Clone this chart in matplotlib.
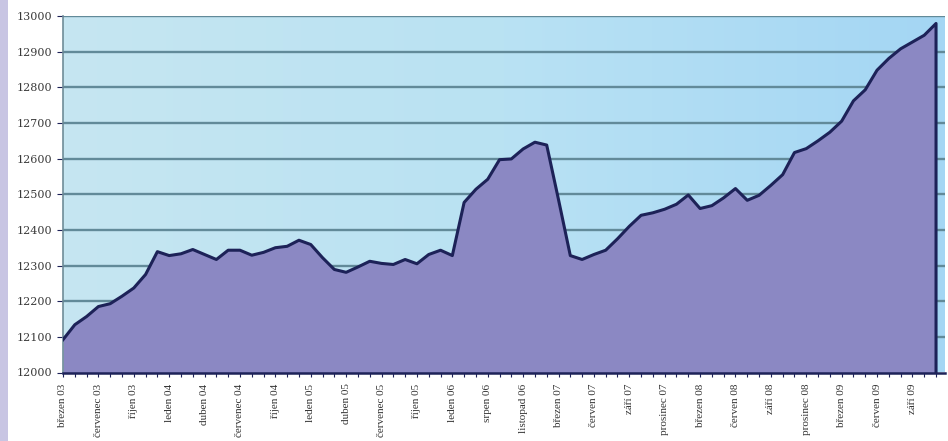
import matplotlib.pyplot as plt
import matplotlib.patches as mpatches
from matplotlib.colors import LinearSegmentedColormap
import numpy as np

# Labels shown on every third category
tick_labels = [
    "březen 03", "červenec 03", "říjen 03", "leden 04", "duben 04",
    "červenec 04", "říjen 04", "leden 05", "duben 05", "červenec 05",
    "říjen 05", "leden 06", "srpen 06", "listopad 06", "březen 07",
    "červen 07", "září 07", "prosinec 07", "březen 08", "červen 08",
    "září 08", "prosinec 08", "březen 09", "červen 09", "září 09",
]

values = [
    12092, 12134, 12157, 12185, 12193, 12214, 12237, 12275, 12339, 12328,
    12333, 12345, 12331, 12317, 12343, 12343, 12329, 12337, 12350, 12354,
    12371, 12359, 12322, 12289, 12281, 12296, 12312, 12306, 12303, 12317,
    12305, 12331, 12343, 12328, 12477, 12514, 12542, 12597, 12599, 12627,
    12646, 12638, 12485, 12328, 12317, 12331, 12343, 12375, 12410, 12441,
    12448, 12458, 12472, 12498, 12460, 12468, 12490, 12516, 12483, 12497,
    12525, 12555, 12617, 12628, 12650, 12674, 12705, 12762, 12793, 12848,
    12881, 12908, 12927, 12946, 12979,
]

y_ticks = list(range(12000, 13001, 100))

x = np.arange(len(values))

fig = plt.figure(figsize=(9.48, 4.41), dpi=100)
fig.patch.set_facecolor("white")
# lavender strip on the left edge
fig.patches.append(mpatches.Rectangle((0, 0), 8 / 948, 1, transform=fig.transFigure,
                                      facecolor="#c8c5e3", edgecolor="none", zorder=0))

ax = fig.add_axes([63 / 948, 1 - 372.5 / 441, (945 - 63) / 948, (372.5 - 16) / 441])

xmax = len(values) - 1 + 0.76
ax.set_xlim(0, xmax)
ax.set_ylim(12000, 13000)

# gradient background of the plot area
grad = LinearSegmentedColormap.from_list("bg", ["#c6e6f1", "#b9e2f3", "#a4d6f4"])
ax.imshow(np.linspace(0, 1, 256).reshape(1, -1), cmap=grad, aspect="auto",
          extent=(0, xmax, 12000, 13000), zorder=0)

# grid
for yv in y_ticks[1:]:
    ax.axhline(yv, color="#628a99", lw=1.7, zorder=1)

ax.fill_between(x, 12000, values, color="#8b88c3", zorder=2, lw=0)
ax.plot(np.r_[x, x[-1]], np.r_[values, 12000], color="#1d2258", lw=2.2, zorder=3,
        solid_joinstyle="round")

ax.set_yticks(y_ticks)
ax.set_yticklabels([str(v) for v in y_ticks], fontsize=8, family="DejaVu Serif",
                   color="#3a3a3a")
ax.set_xticks(x[::3])
ax.set_xticklabels(tick_labels, rotation=90, fontsize=8, family="Liberation Serif",
                   color="#333333", va="top")
ax.set_xticks(x, minor=True)
ax.tick_params(axis="x", which="both", length=3, width=0.8, color="#1d2258", pad=5)
ax.tick_params(axis="y", length=4, width=0.8, color="#1d2258", pad=4)

for s in ["top", "right"]:
    ax.spines[s].set_visible(False)
ax.spines["left"].set_color("#6f8c98")
ax.spines["left"].set_linewidth(1.2)
ax.spines["bottom"].set_color("#1d2258")
ax.spines["bottom"].set_linewidth(1.8)
ax.spines["bottom"].set_zorder(4)

fig.savefig("out.png", dpi=100)
